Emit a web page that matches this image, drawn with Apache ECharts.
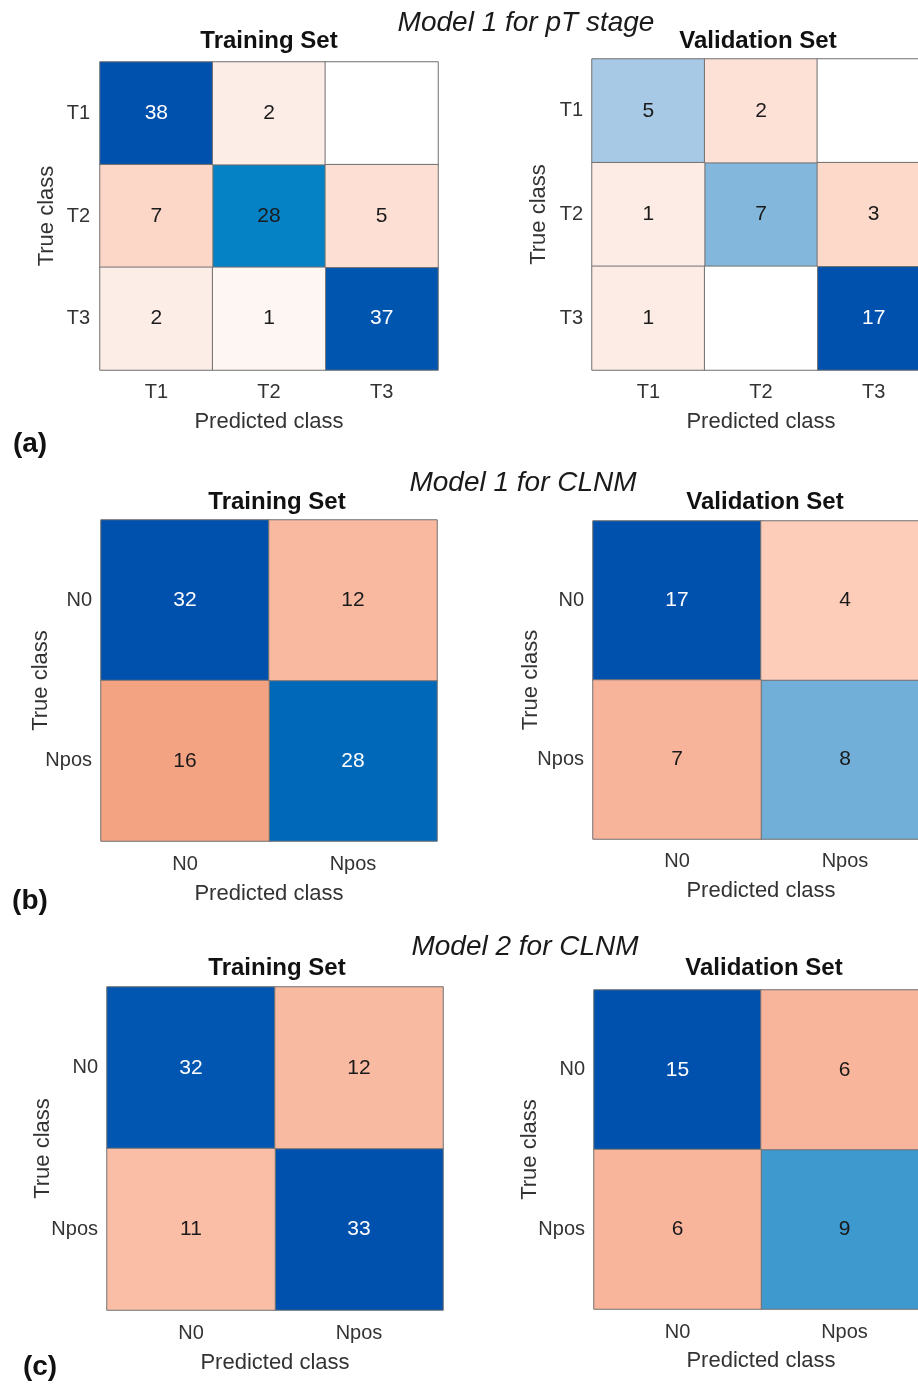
<!DOCTYPE html>
<html>
<head>
<meta charset="utf-8">
<script src="https://cdn.jsdelivr.net/npm/echarts@6/dist/echarts.min.js"></script>
<style>
html,body{margin:0;padding:0;background:#fff;}
#chart{width:918px;height:1386px;}
</style>
</head>
<body>
<div id="chart"></div>
<script>
// ---------- DATA ----------
const pTClasses = ['T1', 'T2', 'T3'];
const nClasses = ['N0', 'Npos'];
// rows = true class, cols = predicted class
const pTTrain = [[38, 2, 0], [7, 28, 5], [2, 1, 37]];
const pTVal = [[5, 2, 0], [1, 7, 3], [1, 0, 17]];
const clnm1Train = [[32, 12], [16, 28]];
const clnm1Val = [[17, 4], [7, 8]];
const clnm2Train = [[32, 12], [11, 33]];
const clnm2Val = [[15, 6], [6, 9]];
const mainTitles = ['Model 1 for pT stage', 'Model 1 for CLNM', 'Model 2 for CLNM'];
const subTitles = ['Training Set', 'Validation Set'];
const panelLetters = ['(a)', '(b)', '(c)'];
const xName = 'Predicted class';
const yName = 'True class';

// ---------- LAYOUT / STYLE ----------
const FONT = '"Liberation Sans", Arial, Helvetica, sans-serif';
const BLUES = ['#ffffff', '#b4d0e8', '#68aad6', '#007fc4', '#0050ad'];
const ORANGES = ['#ffffff', '#fdeae3', '#fde0d5', '#fcd7c7', '#fdcab6', '#fbc1aa', '#f9b9a0', '#f6b096',
  '#f4a382', '#f19877', '#ee8d6c', '#ea8264', '#e6785c', '#e16d55', '#dc634f', '#d65948', '#d05040'];

const panels = [
  { cls: pTClasses, m: pTTrain, grid: { left: 100, top: 62, width: 338, height: 308 }, xGap: 41, xMargin: 12, yGap: 42, yMargin: 10 },
  { cls: pTClasses, m: pTVal, grid: { left: 592, top: 59, width: 338, height: 311 }, xGap: 41, xMargin: 12, yGap: 42, yMargin: 9 },
  { cls: nClasses, m: clnm1Train, grid: { left: 101, top: 520, width: 336, height: 321 }, xGap: 42, xMargin: 13, yGap: 49, yMargin: 9 },
  { cls: nClasses, m: clnm1Val, grid: { left: 593, top: 521, width: 336, height: 318 }, xGap: 41, xMargin: 12, yGap: 51, yMargin: 9 },
  { cls: nClasses, m: clnm2Train, grid: { left: 107, top: 987, width: 336, height: 323 }, xGap: 42, xMargin: 13, yGap: 53, yMargin: 9 },
  { cls: nClasses, m: clnm2Val, grid: { left: 594, top: 990, width: 334, height: 319 }, xGap: 41, xMargin: 13, yGap: 53, yMargin: 9 }
];

const subTitlePos = [[269, 41], [758, 41], [277, 502], [765, 502], [277, 968], [764, 968]];
const mainTitlePos = [[526, 23], [523, 483], [525, 947]];
const letterPos = [[30, 444], [30, 901], [40, 1367]];

const grids = [], xAxes = [], yAxes = [], series = [], visualMaps = [];

panels.forEach((p, k) => {
  const maxV = Math.max(...p.m.flat());
  grids.push(Object.assign({ containLabel: false, outerBoundsMode: 'none', show: false }, p.grid));
  xAxes.push({
    type: 'category', gridIndex: k, data: p.cls, position: 'bottom',
    name: xName, nameLocation: 'middle', nameGap: p.xGap, nameMoveOverlap: false,
    nameTextStyle: { fontFamily: FONT, fontSize: 22, color: '#333' },
    axisLine: { show: false }, axisTick: { show: false }, splitLine: { show: false },
    axisLabel: { fontFamily: FONT, fontSize: 20, color: '#333', margin: p.xMargin }
  });
  yAxes.push({
    type: 'category', gridIndex: k, data: p.cls, inverse: true,
    name: yName, nameLocation: 'middle', nameGap: p.yGap, nameRotate: 90, nameMoveOverlap: false,
    nameTextStyle: { fontFamily: FONT, fontSize: 22, color: '#333' },
    axisLine: { show: false }, axisTick: { show: false }, splitLine: { show: false },
    axisLabel: { fontFamily: FONT, fontSize: 20, color: '#333', margin: p.yMargin }
  });
  const diag = [], off = [];
  p.m.forEach((row, i) => row.forEach((v, j) => {
    (i === j ? diag : off).push([j, i, v]);
  }));
  const labelCfg = {
    show: true,
    formatter: (q) => {
      const v = q.value[2];
      if (!v) return '';
      return (v / maxV > 0.8 ? '{w|' : '{b|') + v + '}';
    },
    rich: {
      w: { color: '#ffffff', fontFamily: FONT, fontSize: 21 },
      b: { color: '#1a1a1a', fontFamily: FONT, fontSize: 21 }
    }
  };
  const base = {
    type: 'heatmap', xAxisIndex: k, yAxisIndex: k,
    itemStyle: { borderColor: '#707070', borderWidth: 1 },
    label: labelCfg,
    emphasis: { disabled: true },
    silent: true
  };
  series.push(Object.assign({}, base, { data: diag }));
  visualMaps.push({ type: 'continuous', show: false, seriesIndex: series.length - 1, dimension: 2, min: 0, max: maxV, inRange: { color: BLUES } });
  series.push(Object.assign({}, base, { data: off }));
  visualMaps.push({ type: 'continuous', show: false, seriesIndex: series.length - 1, dimension: 2, min: 0, max: maxV, inRange: { color: ORANGES } });
});

const graphics = [];
mainTitles.forEach((t, i) => graphics.push({
  type: 'text', x: mainTitlePos[i][0], y: mainTitlePos[i][1],
  style: { text: t, font: 'italic 28px ' + FONT, fill: '#1a1a1a', textAlign: 'center', textVerticalAlign: 'middle' }
}));
subTitlePos.forEach((pos, i) => graphics.push({
  type: 'text', x: pos[0], y: pos[1],
  style: { text: subTitles[i % 2], font: 'bold 24px ' + FONT, fill: '#111', textAlign: 'center', textVerticalAlign: 'middle' }
}));
panelLetters.forEach((t, i) => graphics.push({
  type: 'text', x: letterPos[i][0], y: letterPos[i][1],
  style: { text: t, font: 'bold 28px ' + FONT, fill: '#111', textAlign: 'center', textVerticalAlign: 'middle' }
}));

const chart = echarts.init(document.getElementById('chart'), null, { renderer: 'canvas' });
chart.setOption({
  backgroundColor: '#ffffff',
  animation: false,
  grid: grids,
  xAxis: xAxes,
  yAxis: yAxes,
  visualMap: visualMaps,
  series: series,
  graphic: graphics
});
</script>
</body>
</html>
